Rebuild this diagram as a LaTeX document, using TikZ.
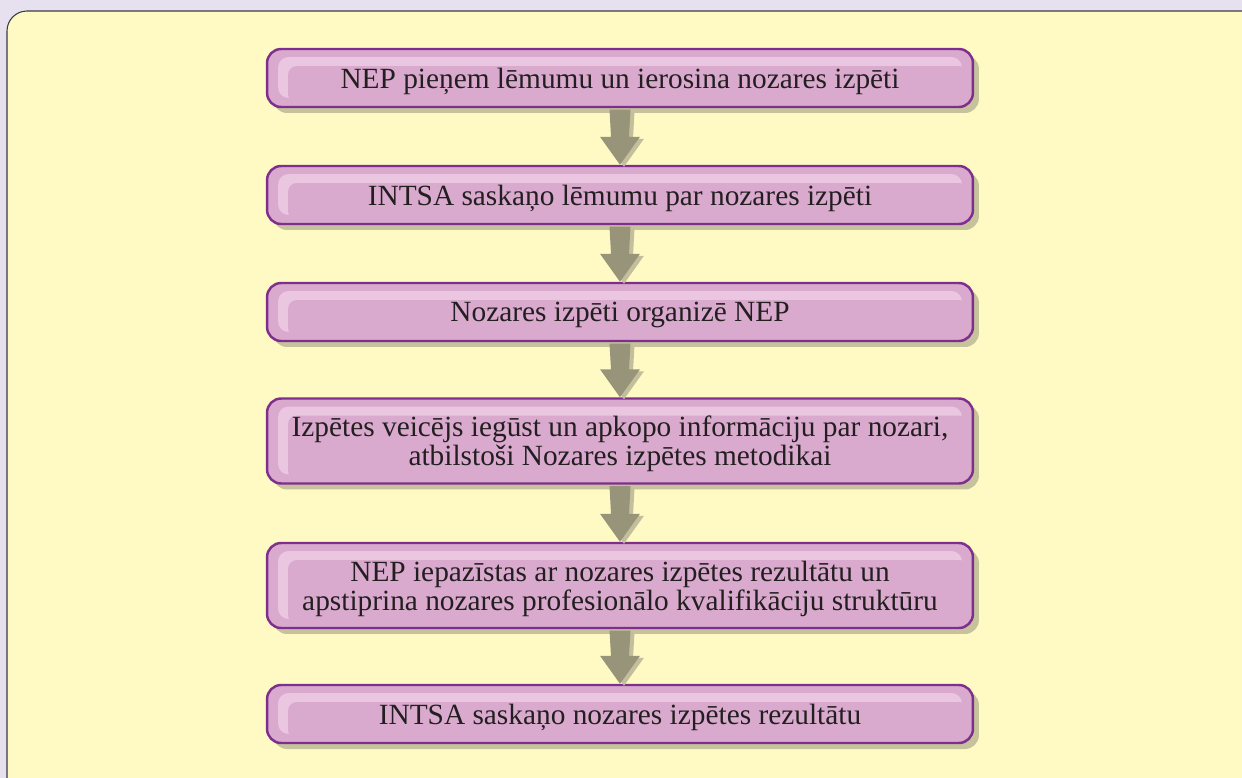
\documentclass[tikz,border=0pt]{standalone}
\usepackage{fontspec}
\setmainfont{Liberation Serif}
\usetikzlibrary{calc,shadows}

\definecolor{pagebg}{HTML}{E7E1EF}
\definecolor{framefill}{HTML}{FFF9C4}
\definecolor{frameline}{HTML}{3A3A40}
\definecolor{boxfill}{HTML}{D9AACE}
\definecolor{boxlite}{HTML}{EAC6E1}
\definecolor{boxline}{HTML}{7E2F8E}
\definecolor{boxshade}{HTML}{C6C29B}
\definecolor{arrowbody}{HTML}{97947A}
\definecolor{arrowshade}{HTML}{C3BF9C}
\definecolor{textcol}{HTML}{231F20}

\tikzset{
  stage/.style={draw=boxline, line width=1.4pt, fill=boxfill, rounded corners=8pt,
    minimum width=14.12cm, minimum height=1.16cm, align=center, text depth=0pt,
    text=textcol, font=\fontsize{16.7}{16.5}\selectfont,
    drop shadow={shadow xshift=0.12cm, shadow yshift=-0.12cm, fill=boxshade, opacity=1},
    path picture={
      \fill[boxlite, rounded corners=6pt]
        ($(path picture bounding box.north west)+(11,8)$) rectangle
        ($(path picture bounding box.south east)+(-11,-9)$);
      \fill[boxfill, rounded corners=5pt]
        ($(path picture bounding box.north west)+(21,17)$) rectangle
        ($(path picture bounding box.south east)+(-5,-4)$);
    }},
  twoline/.style={minimum height=1.7cm},
}

% block arrow with its shadow, from box #1 down to box #2
\newcommand{\flowarrow}[2]{%
  \foreach \sx/\sy/\col in {4/2/arrowshade,0/0/arrowbody}{
    \fill[\col] ($(#1.south)+(-10.5+\sx,1.3+\sy)$) -- ($(#1.south)+(10.5+\sx,1.3+\sy)$)
      -- ($(#2.north)+(9+\sx,-28+\sy)$) -- ($(#2.north)+(20+\sx,-28+\sy)$)
      -- ($(#2.north)+(\sx,\sy)$)
      -- ($(#2.north)+(-20+\sx,-28+\sy)$) -- ($(#2.north)+(-9+\sx,-28+\sy)$) -- cycle;
  }}

\begin{document}
\begin{tikzpicture}[x=0.02cm,y=-0.02cm]
  \useasboundingbox (0,0) rectangle (1242,778);
  \fill[pagebg] (0,0) rectangle (1242,778);
  \draw[frameline, fill=framefill, line width=0.6pt, rounded corners=0.4cm] (7,11) rectangle (1265,800);

  \node[stage] (s1) at (620,78) {NEP pieņem lēmumu un ierosina nozares izpēti};
  \node[stage] (s2) at (620,195) {INTSA saskaņo lēmumu par nozares izpēti};
  \node[stage] (s3) at (620,312) {Nozares izpēti organizē NEP};
  \node[stage,twoline] (s4) at (620,441) {Izpētes veicējs iegūst un apkopo informāciju par nozari,\\ atbilstoši Nozares izpētes metodikai};
  \node[stage,twoline] (s5) at (620,585.5) {NEP iepazīstas ar nozares izpētes rezultātu un\\ apstiprina nozares profesionālo kvalifikāciju struktūru};
  \node[stage] (s6) at (620,714) {INTSA saskaņo nozares izpētes rezultātu};

  \flowarrow{s1}{s2}
  \flowarrow{s2}{s3}
  \flowarrow{s3}{s4}
  \flowarrow{s4}{s5}
  \flowarrow{s5}{s6}
\end{tikzpicture}
\end{document}
